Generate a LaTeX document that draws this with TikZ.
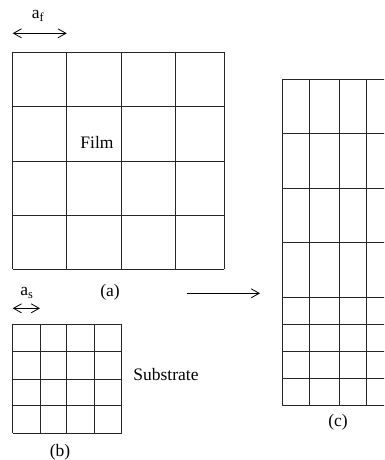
\documentclass[tikz,border=0pt]{standalone}
\usepackage{fontspec}
\setmainfont{Liberation Serif}
\usetikzlibrary{arrows.meta}
\begin{document}
\begin{tikzpicture}[x=1pt,y=-1pt,
  gridline/.style={line width=0.8pt,black!85},
  lbl/.style={inner sep=0pt,font=\fontsize{17.5}{20}\selectfont},
  dimarrow/.style={line width=0.8pt,{Straight Barb[length=8pt,width=9pt]}-{Straight Barb[length=8pt,width=9pt]}},
  maparrow/.style={line width=0.8pt,-{Straight Barb[length=8pt,width=9pt]}}]
\useasboundingbox (0,0) rectangle (384,460);
\clip (0,0) rectangle (384,460);
% (a) film grid
\foreach \x in {12.7,66.7,121,175.7,224.3} \draw[gridline] (\x,52.3) -- (\x,269.3);
\foreach \y in {52.3,106,161,215,269.3} \draw[gridline] (12.7,\y) -- (224.3,\y);
% (b) substrate grid
\foreach \x in {12.7,40,66.7,94.3,121.7} \draw[gridline] (\x,324.3) -- (\x,433.3);
\foreach \y in {324.3,351.7,379,405.7,433.3} \draw[gridline] (12.7,\y) -- (121.7,\y);
% (c) strained film grid
\foreach \x in {282,309,339,366} \draw[gridline] (\x,79.3) -- (\x,405.7);
\foreach \y in {79.3,133.3,188,242.7,297,324,351,378.3,405.7} \draw[gridline] (282,\y) -- (390,\y);
% dimension arrows
\coordinate (af1) at (12.7,33.3);
\coordinate (af2) at (66.7,33.3);
\draw[dimarrow] (af1) -- (af2);
\node[lbl] (af) at (38,16) {a\textsubscript{f}};
\coordinate (as1) at (12.7,308.3);
\coordinate (as2) at (40,308.3);
\draw[dimarrow] (as1) -- (as2);
\node[lbl] (as) at (27,293) {a\textsubscript{s}};
% labels
\node[lbl] (film) at (97,142) {Film};
\node[lbl] (la) at (110,292) {(a)};
\node[lbl] (sub) at (166,375) {Substrate};
\node[lbl] (lb) at (60,452) {(b)};
\node[lbl] (lc) at (338,422) {(c)};
% mapping arrow
\coordinate (m1) at (186.7,293.3);
\coordinate (m2) at (260,293.3);
\draw[maparrow] (m1) -- (m2);
\end{tikzpicture}
\end{document}
